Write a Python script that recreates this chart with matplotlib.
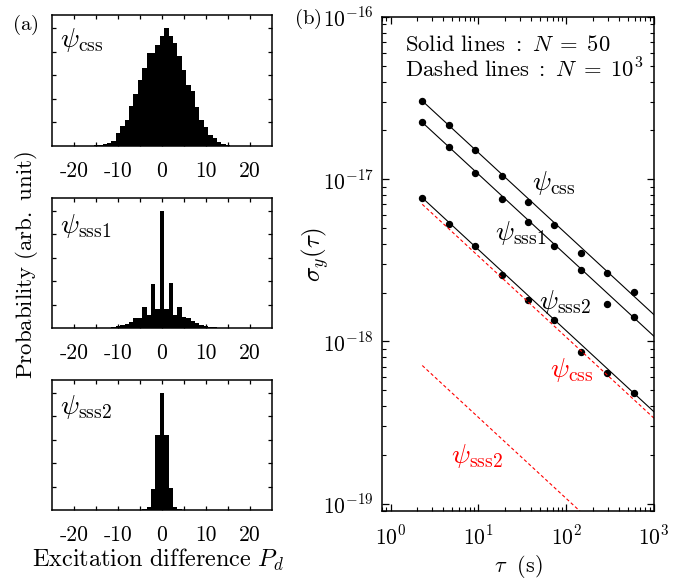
import numpy as np
import matplotlib
matplotlib.use("Agg")
import matplotlib.pyplot as plt
from matplotlib.ticker import FixedLocator, FixedFormatter, LogLocator, NullFormatter

plt.rcParams["mathtext.fontset"] = "cm"
plt.rcParams["font.family"] = ["cmr10", "DejaVu Serif"]
plt.rcParams["axes.unicode_minus"] = False
plt.rcParams["axes.linewidth"] = 1.1

# ---- (a) excitation-difference histograms (arb. unit) ----
pd_css = np.arange(-15, 16)
p_css = [0.03, 0.05, 0.07, 0.11, 0.23, 0.54, 0.85, 1.10, 1.70, 2.21, 2.80,
         3.30, 3.94, 3.94, 4.29, 4.67, 5.00, 4.67, 4.36, 3.80, 3.23, 2.59,
         2.35, 1.64, 1.10, 0.82, 0.47, 0.33, 0.18, 0.08, 0.04]

pd_sss1 = np.arange(-12, 13)
p_sss1 = [0.02, 0.04, 0.07, 0.11, 0.17, 0.27, 0.41, 0.41, 0.88, 0.55, 1.88,
          0.80, 5.00, 0.80, 1.93, 0.55, 0.88, 0.48, 0.41, 0.31, 0.20, 0.14,
          0.09, 0.05, 0.03]

pd_sss2 = np.arange(-4, 5)
p_sss2 = [0.03, 0.14, 0.88, 3.20, 5.00, 3.20, 0.95, 0.12, 0.05]

hist_labels = [r"$\psi_{\rm css}$", r"$\psi_{\rm sss1}$", r"$\psi_{\rm sss2}$"]
pd_ticks = [-20, -15, -10, -5, 0, 5, 10, 15, 20]
pd_ticklabels = ["-20", "", "-10", "", "0", "", "10", "", "20"]

# ---- (b) Allan deviation vs averaging time ----
tau = [2.3, 4.6, 9.2, 18.4, 36.8, 73.6, 147, 294, 589]
sig_css = [3.04e-17, 2.16e-17, 1.52e-17, 1.04e-17, 7.21e-18, 5.25e-18,
           3.51e-18, 2.65e-18, 2.01e-18]
sig_sss1 = [2.24e-17, 1.58e-17, 1.09e-17, 7.60e-18, 5.45e-18, 3.90e-18,
            2.77e-18, 1.69e-18, 1.42e-18]
sig_sss2 = [7.68e-18, 5.30e-18, 3.88e-18, 2.57e-18, 1.80e-18, 1.35e-18,
            8.64e-19, 6.34e-19, 4.82e-19]

# tau^{-1/2} fits, end points
tau_fit = [2.3, 1000]
fit_css = [3.04e-17, 1.46e-18]
fit_sss1 = [2.24e-17, 1.075e-18]
fit_sss2 = [7.68e-18, 3.68e-19]
fit_css_N1e3 = [7.0e-18, 3.36e-19]
fit_sss2_N1e3 = [7.1e-19, 3.4e-20]

W, H = 692, 578
fig = plt.figure(figsize=(W / 100, H / 100), dpi=100)


def px_axes(left, top, right, bottom):
    return fig.add_axes([left / W, 1 - bottom / H, (right - left) / W, (bottom - top) / H])


hist_boxes = [(52, 15, 272, 146), (52, 198, 272, 328), (52, 380, 272, 510)]
hist_data = [(pd_css, p_css), (pd_sss1, p_sss1), (pd_sss2, p_sss2)]
label_y = [0.81, 0.785, 0.79]

for box, (x, p), lab, ly in zip(hist_boxes, hist_data, hist_labels, label_y):
    ax = px_axes(*box)
    ax.bar(x, p, width=1.0, color="k", linewidth=0)
    ax.set_xlim(-25, 25)
    ax.set_ylim(0, 5.55)
    ax.xaxis.set_major_locator(FixedLocator(pd_ticks))
    ax.xaxis.set_major_formatter(FixedFormatter(pd_ticklabels))
    ax.yaxis.set_major_locator(FixedLocator([1, 2, 3, 4, 5]))
    ax.yaxis.set_major_formatter(NullFormatter())
    ax.tick_params(direction="in", top=True, right=True, length=3.2, width=0.9,
                   labelsize=15.5, pad=11)
    ax.text(0.036, ly, lab, transform=ax.transAxes, fontsize=20,
            ha="left", va="center")

fig.text(27 / W, 1 - 265 / H, r"$\mathrm{Probability\ (arb.\ unit)}$",
         rotation=90, ha="center", va="center", fontsize=16.5)
fig.text(158 / W, 1 - 560 / H, r"$\mathrm{Excitation\ difference}\ P_d$",
         ha="center", va="center", fontsize=17.5)
fig.text(25 / W, 1 - 25 / H, r"$\mathrm{(a)}$", ha="center", va="center", fontsize=15)
fig.text(308 / W, 1 - 19 / H, r"$\mathrm{(b)}$", ha="center", va="center", fontsize=15)

# ---- right panel ----
ax = px_axes(382, 17, 654, 511)
ax.set_xscale("log")
ax.set_yscale("log")
for s in (fit_css, fit_sss1, fit_sss2):
    ax.plot(tau_fit, s, color="k", lw=0.8)
for s in (sig_css, sig_sss1, sig_sss2):
    ax.plot(tau, s, "o", color="k", ms=4.3, mec="k")
for s in (fit_css_N1e3, fit_sss2_N1e3):
    ax.plot(tau_fit, s, color="red", lw=0.8, linestyle=(0, (3, 2.2)))

ax.set_xlim(0.8, 1000)
ax.set_ylim(9e-20, 1e-16)
ax.xaxis.set_major_locator(FixedLocator([1, 10, 100, 1000]))
ax.xaxis.set_major_formatter(FixedFormatter([r"$10^{0}$", r"$10^{1}$", r"$10^{2}$", r"$10^{3}$"]))
ax.yaxis.set_major_locator(FixedLocator([1e-19, 1e-18, 1e-17, 1e-16]))
ax.yaxis.set_major_formatter(FixedFormatter([r"$10^{-19}$", r"$10^{-18}$", r"$10^{-17}$", r"$10^{-16}$"]))
ax.xaxis.set_minor_locator(LogLocator(base=10, subs=np.arange(2, 10), numticks=20))
ax.yaxis.set_minor_locator(LogLocator(base=10, subs=np.arange(2, 10), numticks=20))
ax.xaxis.set_minor_formatter(NullFormatter())
ax.yaxis.set_minor_formatter(NullFormatter())
ax.tick_params(which="both", direction="in", top=True, right=True, labelsize=15.5)
ax.tick_params(which="major", length=5, width=0.9)
ax.tick_params(which="minor", length=3.2, width=0.8)
ax.tick_params(axis="x", which="major", pad=10)
ax.tick_params(axis="y", which="major", pad=6)

ax.text(0.085, 0.943, r"$\mathrm{Solid\ lines\ :}\ N\;=\;50$", transform=ax.transAxes,
        fontsize=16.3, ha="left", va="center")
ax.text(0.085, 0.893, r"$\mathrm{Dashed\ lines\ :}\ N\;=\;10^3$", transform=ax.transAxes,
        fontsize=16.3, ha="left", va="center")
ax.text(0.632, 0.664, r"$\psi_{\rm css}$", transform=ax.transAxes, fontsize=20,
        ha="center", va="center")
ax.text(0.511, 0.563, r"$\psi_{\rm sss1}$", transform=ax.transAxes, fontsize=20,
        ha="center", va="center")
ax.text(0.673, 0.423, r"$\psi_{\rm sss2}$", transform=ax.transAxes, fontsize=20,
        ha="center", va="center")
ax.text(0.699, 0.285, r"$\psi_{\rm css}$", transform=ax.transAxes, fontsize=20,
        ha="center", va="center", color="red")
ax.text(0.349, 0.111, r"$\psi_{\rm sss2}$", transform=ax.transAxes, fontsize=20,
        ha="center", va="center", color="red")

fig.text(315 / W, 1 - 255 / H, r"$\sigma_y(\tau)$", rotation=90,
         ha="center", va="center", fontsize=18)
fig.text(518 / W, 1 - 566 / H, r"$\tau\ \ \mathrm{(s)}$", ha="center", va="center",
         fontsize=16)

fig.savefig("out.png", dpi=100)
